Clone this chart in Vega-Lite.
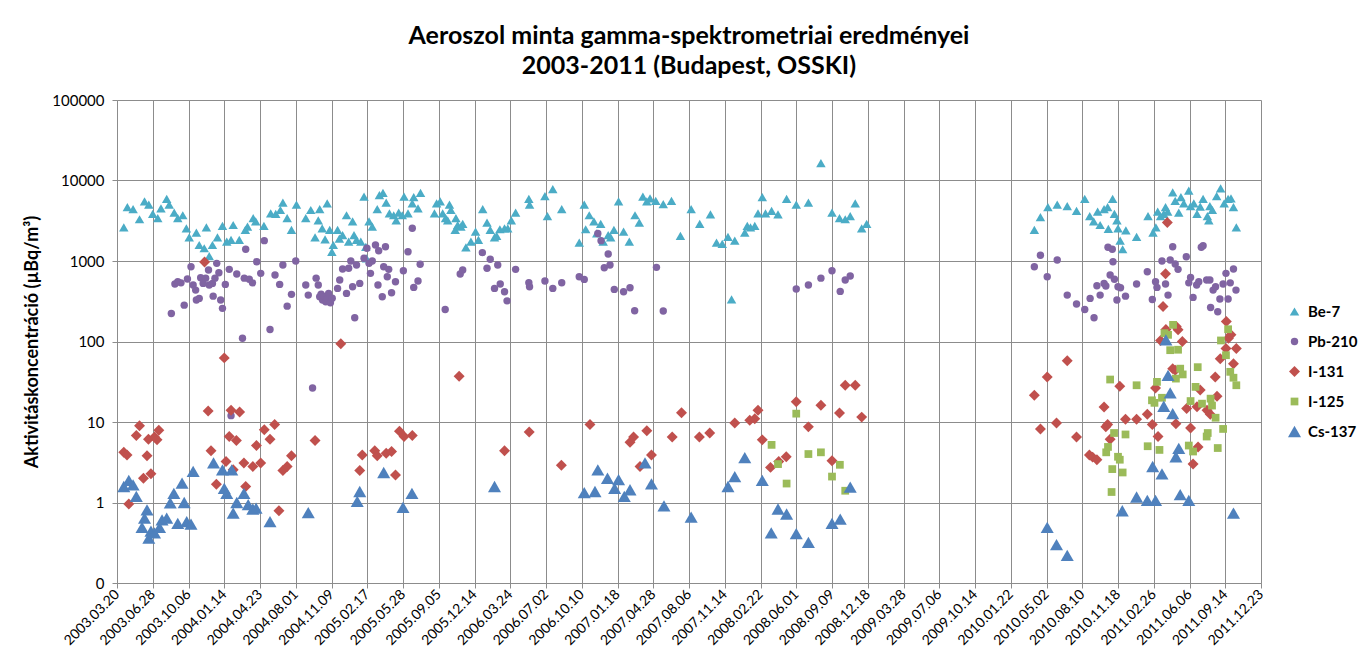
{
"$schema": "https://vega.github.io/schema/vega-lite/v6.json",
"width": 1144, "height": 483,
"autosize": {"type": "none"},
"padding": {"left": 117, "top": 100, "right": 104, "bottom": 80},
"background": "white",
"config": {"view": {"stroke": null}, "font": "Lato"},
"title": {"text": ["Aeroszol minta gamma-spektrometriai eredményei", "2003-2011 (Budapest, OSSKI)"], "fontSize": 25, "font": "Lato", "fontWeight": "bold", "color": "#000", "anchor": "middle", "frame": "group", "offset": 14, "lineHeight": 30},
"datasets": {"all": [
{"date":"2003-04-08","value":2620,"nuclide":"Be-7"},{"date":"2003-04-18","value":4660,"nuclide":"Be-7"},{"date":"2003-05-04","value":4400,"nuclide":"Be-7"},{"date":"2003-05-22","value":3300,"nuclide":"Be-7"},{"date":"2003-06-05","value":5500,"nuclide":"Be-7"},{"date":"2003-06-17","value":5000,"nuclide":"Be-7"},{"date":"2003-06-28","value":3850,"nuclide":"Be-7"},{"date":"2003-07-12","value":3400,"nuclide":"Be-7"},{"date":"2003-07-21","value":4500,"nuclide":"Be-7"},{"date":"2003-08-06","value":5900,"nuclide":"Be-7"},{"date":"2003-08-13","value":5000,"nuclide":"Be-7"},{"date":"2003-08-27","value":4000,"nuclide":"Be-7"},{"date":"2003-09-06","value":3400,"nuclide":"Be-7"},{"date":"2003-09-20","value":3700,"nuclide":"Be-7"},{"date":"2003-09-30","value":2550,"nuclide":"Be-7"},{"date":"2003-10-08","value":1970,"nuclide":"Be-7"},{"date":"2003-10-28","value":2250,"nuclide":"Be-7"},{"date":"2003-11-05","value":1580,"nuclide":"Be-7"},{"date":"2003-11-19","value":1440,"nuclide":"Be-7"},{"date":"2003-11-25","value":2620,"nuclide":"Be-7"},{"date":"2003-12-03","value":1150,"nuclide":"Be-7"},{"date":"2003-12-12","value":1580,"nuclide":"Be-7"},{"date":"2003-12-26","value":1970,"nuclide":"Be-7"},{"date":"2004-01-09","value":2730,"nuclide":"Be-7"},{"date":"2004-01-21","value":1740,"nuclide":"Be-7"},{"date":"2004-02-02","value":1830,"nuclide":"Be-7"},{"date":"2004-02-08","value":2800,"nuclide":"Be-7"},{"date":"2004-02-25","value":1830,"nuclide":"Be-7"},{"date":"2004-03-13","value":2430,"nuclide":"Be-7"},{"date":"2004-03-19","value":2670,"nuclide":"Be-7"},{"date":"2004-04-04","value":3400,"nuclide":"Be-7"},{"date":"2004-04-11","value":3100,"nuclide":"Be-7"},{"date":"2004-05-04","value":2730,"nuclide":"Be-7"},{"date":"2004-05-23","value":3900,"nuclide":"Be-7"},{"date":"2004-06-06","value":3850,"nuclide":"Be-7"},{"date":"2004-06-19","value":4300,"nuclide":"Be-7"},{"date":"2004-06-26","value":5300,"nuclide":"Be-7"},{"date":"2004-07-08","value":3400,"nuclide":"Be-7"},{"date":"2004-07-20","value":2430,"nuclide":"Be-7"},{"date":"2004-08-03","value":5000,"nuclide":"Be-7"},{"date":"2004-08-29","value":3400,"nuclide":"Be-7"},{"date":"2004-09-12","value":4300,"nuclide":"Be-7"},{"date":"2004-09-24","value":1970,"nuclide":"Be-7"},{"date":"2004-10-03","value":3200,"nuclide":"Be-7"},{"date":"2004-10-07","value":4400,"nuclide":"Be-7"},{"date":"2004-10-14","value":2550,"nuclide":"Be-7"},{"date":"2004-10-22","value":1860,"nuclide":"Be-7"},{"date":"2004-10-28","value":5200,"nuclide":"Be-7"},{"date":"2004-11-04","value":2430,"nuclide":"Be-7"},{"date":"2004-11-10","value":1300,"nuclide":"Be-7"},{"date":"2004-11-14","value":1580,"nuclide":"Be-7"},{"date":"2004-11-26","value":2430,"nuclide":"Be-7"},{"date":"2004-12-01","value":1900,"nuclide":"Be-7"},{"date":"2004-12-10","value":2100,"nuclide":"Be-7"},{"date":"2004-12-21","value":3700,"nuclide":"Be-7"},{"date":"2004-12-27","value":1740,"nuclide":"Be-7"},{"date":"2005-01-07","value":3100,"nuclide":"Be-7"},{"date":"2005-01-11","value":2100,"nuclide":"Be-7"},{"date":"2005-01-18","value":1830,"nuclide":"Be-7"},{"date":"2005-01-30","value":1740,"nuclide":"Be-7"},{"date":"2005-02-08","value":6300,"nuclide":"Be-7"},{"date":"2005-02-13","value":1500,"nuclide":"Be-7"},{"date":"2005-02-15","value":1080,"nuclide":"Be-7"},{"date":"2005-02-22","value":3100,"nuclide":"Be-7"},{"date":"2005-03-03","value":2670,"nuclide":"Be-7"},{"date":"2005-03-17","value":4400,"nuclide":"Be-7"},{"date":"2005-03-23","value":6600,"nuclide":"Be-7"},{"date":"2005-04-02","value":7000,"nuclide":"Be-7"},{"date":"2005-04-11","value":5300,"nuclide":"Be-7"},{"date":"2005-04-20","value":3900,"nuclide":"Be-7"},{"date":"2005-05-02","value":3700,"nuclide":"Be-7"},{"date":"2005-05-09","value":3200,"nuclide":"Be-7"},{"date":"2005-05-16","value":4000,"nuclide":"Be-7"},{"date":"2005-05-26","value":3700,"nuclide":"Be-7"},{"date":"2005-05-31","value":6300,"nuclide":"Be-7"},{"date":"2005-06-11","value":3900,"nuclide":"Be-7"},{"date":"2005-06-23","value":5200,"nuclide":"Be-7"},{"date":"2005-06-27","value":6200,"nuclide":"Be-7"},{"date":"2005-07-09","value":4500,"nuclide":"Be-7"},{"date":"2005-07-16","value":7000,"nuclide":"Be-7"},{"date":"2005-08-24","value":3900,"nuclide":"Be-7"},{"date":"2005-08-30","value":5200,"nuclide":"Be-7"},{"date":"2005-09-09","value":5500,"nuclide":"Be-7"},{"date":"2005-09-16","value":3900,"nuclide":"Be-7"},{"date":"2005-09-24","value":3400,"nuclide":"Be-7"},{"date":"2005-09-30","value":3200,"nuclide":"Be-7"},{"date":"2005-10-05","value":5000,"nuclide":"Be-7"},{"date":"2005-10-09","value":4300,"nuclide":"Be-7"},{"date":"2005-10-21","value":2430,"nuclide":"Be-7"},{"date":"2005-10-23","value":3400,"nuclide":"Be-7"},{"date":"2005-10-28","value":2800,"nuclide":"Be-7"},{"date":"2005-11-06","value":2670,"nuclide":"Be-7"},{"date":"2005-11-11","value":2900,"nuclide":"Be-7"},{"date":"2005-11-20","value":1480,"nuclide":"Be-7"},{"date":"2005-12-04","value":1740,"nuclide":"Be-7"},{"date":"2005-12-17","value":2320,"nuclide":"Be-7"},{"date":"2005-12-25","value":1830,"nuclide":"Be-7"},{"date":"2006-01-06","value":4400,"nuclide":"Be-7"},{"date":"2006-01-18","value":3000,"nuclide":"Be-7"},{"date":"2006-01-27","value":2430,"nuclide":"Be-7"},{"date":"2006-02-08","value":1970,"nuclide":"Be-7"},{"date":"2006-02-14","value":2050,"nuclide":"Be-7"},{"date":"2006-02-23","value":2480,"nuclide":"Be-7"},{"date":"2006-03-08","value":2550,"nuclide":"Be-7"},{"date":"2006-03-17","value":2550,"nuclide":"Be-7"},{"date":"2006-03-27","value":3200,"nuclide":"Be-7"},{"date":"2006-04-08","value":4000,"nuclide":"Be-7"},{"date":"2006-05-15","value":5900,"nuclide":"Be-7"},{"date":"2006-05-17","value":5000,"nuclide":"Be-7"},{"date":"2006-06-29","value":6400,"nuclide":"Be-7"},{"date":"2006-07-06","value":3600,"nuclide":"Be-7"},{"date":"2006-07-21","value":7800,"nuclide":"Be-7"},{"date":"2006-08-15","value":4400,"nuclide":"Be-7"},{"date":"2006-10-03","value":1690,"nuclide":"Be-7"},{"date":"2006-10-17","value":5000,"nuclide":"Be-7"},{"date":"2006-10-21","value":2480,"nuclide":"Be-7"},{"date":"2006-10-31","value":3700,"nuclide":"Be-7"},{"date":"2006-11-13","value":3100,"nuclide":"Be-7"},{"date":"2006-11-21","value":2200,"nuclide":"Be-7"},{"date":"2006-12-02","value":2900,"nuclide":"Be-7"},{"date":"2006-12-09","value":1740,"nuclide":"Be-7"},{"date":"2006-12-23","value":2100,"nuclide":"Be-7"},{"date":"2006-12-30","value":1970,"nuclide":"Be-7"},{"date":"2007-01-08","value":2430,"nuclide":"Be-7"},{"date":"2007-01-21","value":5500,"nuclide":"Be-7"},{"date":"2007-02-04","value":2320,"nuclide":"Be-7"},{"date":"2007-02-20","value":1740,"nuclide":"Be-7"},{"date":"2007-03-08","value":3700,"nuclide":"Be-7"},{"date":"2007-03-20","value":3000,"nuclide":"Be-7"},{"date":"2007-03-30","value":6300,"nuclide":"Be-7"},{"date":"2007-04-10","value":5500,"nuclide":"Be-7"},{"date":"2007-04-19","value":6000,"nuclide":"Be-7"},{"date":"2007-05-05","value":5600,"nuclide":"Be-7"},{"date":"2007-05-26","value":5100,"nuclide":"Be-7"},{"date":"2007-06-18","value":5600,"nuclide":"Be-7"},{"date":"2007-07-13","value":2050,"nuclide":"Be-7"},{"date":"2007-08-12","value":4400,"nuclide":"Be-7"},{"date":"2007-09-05","value":2900,"nuclide":"Be-7"},{"date":"2007-10-05","value":3800,"nuclide":"Be-7"},{"date":"2007-10-22","value":1690,"nuclide":"Be-7"},{"date":"2007-11-07","value":1630,"nuclide":"Be-7"},{"date":"2007-11-23","value":2000,"nuclide":"Be-7"},{"date":"2007-12-03","value":333,"nuclide":"Be-7"},{"date":"2007-12-12","value":1790,"nuclide":"Be-7"},{"date":"2008-01-09","value":2250,"nuclide":"Be-7"},{"date":"2008-01-16","value":2730,"nuclide":"Be-7"},{"date":"2008-01-25","value":2620,"nuclide":"Be-7"},{"date":"2008-02-06","value":2730,"nuclide":"Be-7"},{"date":"2008-02-15","value":3900,"nuclide":"Be-7"},{"date":"2008-02-27","value":6200,"nuclide":"Be-7"},{"date":"2008-03-07","value":3900,"nuclide":"Be-7"},{"date":"2008-03-24","value":4200,"nuclide":"Be-7"},{"date":"2008-04-11","value":3800,"nuclide":"Be-7"},{"date":"2008-05-05","value":5900,"nuclide":"Be-7"},{"date":"2008-06-01","value":5000,"nuclide":"Be-7"},{"date":"2008-07-05","value":5300,"nuclide":"Be-7"},{"date":"2008-08-09","value":16400,"nuclide":"Be-7"},{"date":"2008-09-09","value":4000,"nuclide":"Be-7"},{"date":"2008-09-30","value":3400,"nuclide":"Be-7"},{"date":"2008-10-16","value":3300,"nuclide":"Be-7"},{"date":"2008-10-30","value":3600,"nuclide":"Be-7"},{"date":"2008-11-13","value":5200,"nuclide":"Be-7"},{"date":"2008-12-01","value":2550,"nuclide":"Be-7"},{"date":"2008-12-15","value":2900,"nuclide":"Be-7"},{"date":"2010-03-29","value":2430,"nuclide":"Be-7"},{"date":"2010-04-15","value":3500,"nuclide":"Be-7"},{"date":"2010-05-06","value":4660,"nuclide":"Be-7"},{"date":"2010-06-01","value":5000,"nuclide":"Be-7"},{"date":"2010-06-29","value":4800,"nuclide":"Be-7"},{"date":"2010-07-25","value":4200,"nuclide":"Be-7"},{"date":"2010-08-17","value":5900,"nuclide":"Be-7"},{"date":"2010-08-31","value":3600,"nuclide":"Be-7"},{"date":"2010-09-11","value":3100,"nuclide":"Be-7"},{"date":"2010-09-22","value":4100,"nuclide":"Be-7"},{"date":"2010-09-29","value":2800,"nuclide":"Be-7"},{"date":"2010-10-10","value":4400,"nuclide":"Be-7"},{"date":"2010-10-20","value":4660,"nuclide":"Be-7"},{"date":"2010-10-22","value":2500,"nuclide":"Be-7"},{"date":"2010-11-03","value":5900,"nuclide":"Be-7"},{"date":"2010-11-08","value":3850,"nuclide":"Be-7"},{"date":"2010-11-15","value":3200,"nuclide":"Be-7"},{"date":"2010-11-18","value":2550,"nuclide":"Be-7"},{"date":"2010-11-24","value":1790,"nuclide":"Be-7"},{"date":"2010-12-01","value":1400,"nuclide":"Be-7"},{"date":"2010-12-10","value":2400,"nuclide":"Be-7"},{"date":"2011-01-09","value":2000,"nuclide":"Be-7"},{"date":"2011-02-10","value":3600,"nuclide":"Be-7"},{"date":"2011-02-24","value":2250,"nuclide":"Be-7"},{"date":"2011-03-04","value":2620,"nuclide":"Be-7"},{"date":"2011-03-09","value":4100,"nuclide":"Be-7"},{"date":"2011-03-17","value":3600,"nuclide":"Be-7"},{"date":"2011-03-26","value":3850,"nuclide":"Be-7"},{"date":"2011-03-31","value":4660,"nuclide":"Be-7"},{"date":"2011-04-06","value":4100,"nuclide":"Be-7"},{"date":"2011-04-20","value":7100,"nuclide":"Be-7"},{"date":"2011-04-27","value":5600,"nuclide":"Be-7"},{"date":"2011-05-07","value":4000,"nuclide":"Be-7"},{"date":"2011-05-13","value":6200,"nuclide":"Be-7"},{"date":"2011-05-21","value":5200,"nuclide":"Be-7"},{"date":"2011-06-04","value":7500,"nuclide":"Be-7"},{"date":"2011-06-09","value":4800,"nuclide":"Be-7"},{"date":"2011-06-18","value":5200,"nuclide":"Be-7"},{"date":"2011-06-27","value":3850,"nuclide":"Be-7"},{"date":"2011-07-06","value":4750,"nuclide":"Be-7"},{"date":"2011-07-14","value":5900,"nuclide":"Be-7"},{"date":"2011-07-26","value":3600,"nuclide":"Be-7"},{"date":"2011-07-30","value":3200,"nuclide":"Be-7"},{"date":"2011-08-02","value":4800,"nuclide":"Be-7"},{"date":"2011-08-09","value":4300,"nuclide":"Be-7"},{"date":"2011-08-21","value":6400,"nuclide":"Be-7"},{"date":"2011-09-01","value":8000,"nuclide":"Be-7"},{"date":"2011-09-11","value":5200,"nuclide":"Be-7"},{"date":"2011-09-22","value":5900,"nuclide":"Be-7"},{"date":"2011-09-30","value":6000,"nuclide":"Be-7"},{"date":"2011-10-07","value":4660,"nuclide":"Be-7"},{"date":"2011-10-15","value":2620,"nuclide":"Be-7"},
{"date":"2003-08-19","value":223,"nuclide":"Pb-210"},{"date":"2003-08-29","value":517,"nuclide":"Pb-210"},{"date":"2003-09-06","value":553,"nuclide":"Pb-210"},{"date":"2003-09-15","value":535,"nuclide":"Pb-210"},{"date":"2003-09-24","value":283,"nuclide":"Pb-210"},{"date":"2003-10-03","value":597,"nuclide":"Pb-210"},{"date":"2003-10-13","value":850,"nuclide":"Pb-210"},{"date":"2003-10-19","value":503,"nuclide":"Pb-210"},{"date":"2003-10-26","value":435,"nuclide":"Pb-210"},{"date":"2003-10-28","value":327,"nuclide":"Pb-210"},{"date":"2003-11-05","value":343,"nuclide":"Pb-210"},{"date":"2003-11-09","value":620,"nuclide":"Pb-210"},{"date":"2003-11-16","value":527,"nuclide":"Pb-210"},{"date":"2003-11-23","value":612,"nuclide":"Pb-210"},{"date":"2003-12-01","value":773,"nuclide":"Pb-210"},{"date":"2003-12-03","value":503,"nuclide":"Pb-210"},{"date":"2003-12-12","value":527,"nuclide":"Pb-210"},{"date":"2003-12-14","value":366,"nuclide":"Pb-210"},{"date":"2003-12-19","value":612,"nuclide":"Pb-210"},{"date":"2003-12-24","value":935,"nuclide":"Pb-210"},{"date":"2003-12-30","value":716,"nuclide":"Pb-210"},{"date":"2004-01-04","value":327,"nuclide":"Pb-210"},{"date":"2004-01-09","value":258,"nuclide":"Pb-210"},{"date":"2004-01-17","value":512,"nuclide":"Pb-210"},{"date":"2004-01-28","value":787,"nuclide":"Pb-210"},{"date":"2004-02-02","value":12,"nuclide":"Pb-210"},{"date":"2004-02-18","value":688,"nuclide":"Pb-210"},{"date":"2004-03-05","value":110,"nuclide":"Pb-210"},{"date":"2004-03-10","value":612,"nuclide":"Pb-210"},{"date":"2004-03-14","value":1400,"nuclide":"Pb-210"},{"date":"2004-03-24","value":593,"nuclide":"Pb-210"},{"date":"2004-04-02","value":535,"nuclide":"Pb-210"},{"date":"2004-04-14","value":980,"nuclide":"Pb-210"},{"date":"2004-04-25","value":702,"nuclide":"Pb-210"},{"date":"2004-05-05","value":1790,"nuclide":"Pb-210"},{"date":"2004-05-21","value":141,"nuclide":"Pb-210"},{"date":"2004-06-04","value":670,"nuclide":"Pb-210"},{"date":"2004-06-17","value":512,"nuclide":"Pb-210"},{"date":"2004-06-26","value":891,"nuclide":"Pb-210"},{"date":"2004-07-08","value":275,"nuclide":"Pb-210"},{"date":"2004-07-20","value":385,"nuclide":"Pb-210"},{"date":"2004-08-01","value":1000,"nuclide":"Pb-210"},{"date":"2004-08-29","value":503,"nuclide":"Pb-210"},{"date":"2004-09-05","value":377,"nuclide":"Pb-210"},{"date":"2004-09-17","value":26.5,"nuclide":"Pb-210"},{"date":"2004-09-27","value":612,"nuclide":"Pb-210"},{"date":"2004-10-03","value":503,"nuclide":"Pb-210"},{"date":"2004-10-07","value":360,"nuclide":"Pb-210"},{"date":"2004-10-11","value":388,"nuclide":"Pb-210"},{"date":"2004-10-15","value":327,"nuclide":"Pb-210"},{"date":"2004-10-20","value":360,"nuclide":"Pb-210"},{"date":"2004-10-24","value":312,"nuclide":"Pb-210"},{"date":"2004-10-28","value":340,"nuclide":"Pb-210"},{"date":"2004-11-01","value":396,"nuclide":"Pb-210"},{"date":"2004-11-06","value":303,"nuclide":"Pb-210"},{"date":"2004-11-11","value":345,"nuclide":"Pb-210"},{"date":"2004-11-26","value":457,"nuclide":"Pb-210"},{"date":"2004-12-02","value":580,"nuclide":"Pb-210"},{"date":"2004-12-10","value":795,"nuclide":"Pb-210"},{"date":"2004-12-21","value":396,"nuclide":"Pb-210"},{"date":"2004-12-27","value":811,"nuclide":"Pb-210"},{"date":"2005-01-02","value":1000,"nuclide":"Pb-210"},{"date":"2005-01-07","value":479,"nuclide":"Pb-210"},{"date":"2005-01-13","value":197,"nuclide":"Pb-210"},{"date":"2005-01-18","value":891,"nuclide":"Pb-210"},{"date":"2005-01-27","value":527,"nuclide":"Pb-210"},{"date":"2005-02-08","value":1080,"nuclide":"Pb-210"},{"date":"2005-02-16","value":1440,"nuclide":"Pb-210"},{"date":"2005-02-22","value":935,"nuclide":"Pb-210"},{"date":"2005-02-26","value":702,"nuclide":"Pb-210"},{"date":"2005-03-03","value":1000,"nuclide":"Pb-210"},{"date":"2005-03-12","value":1580,"nuclide":"Pb-210"},{"date":"2005-03-19","value":503,"nuclide":"Pb-210"},{"date":"2005-03-21","value":1340,"nuclide":"Pb-210"},{"date":"2005-03-31","value":360,"nuclide":"Pb-210"},{"date":"2005-04-04","value":850,"nuclide":"Pb-210"},{"date":"2005-04-09","value":1500,"nuclide":"Pb-210"},{"date":"2005-04-14","value":638,"nuclide":"Pb-210"},{"date":"2005-04-18","value":787,"nuclide":"Pb-210"},{"date":"2005-04-26","value":404,"nuclide":"Pb-210"},{"date":"2005-05-07","value":553,"nuclide":"Pb-210"},{"date":"2005-05-29","value":758,"nuclide":"Pb-210"},{"date":"2005-06-11","value":1300,"nuclide":"Pb-210"},{"date":"2005-06-23","value":2550,"nuclide":"Pb-210"},{"date":"2005-06-27","value":470,"nuclide":"Pb-210"},{"date":"2005-07-09","value":564,"nuclide":"Pb-210"},{"date":"2005-07-15","value":910,"nuclide":"Pb-210"},{"date":"2005-09-23","value":250,"nuclide":"Pb-210"},{"date":"2005-11-04","value":688,"nuclide":"Pb-210"},{"date":"2005-11-11","value":773,"nuclide":"Pb-210"},{"date":"2006-01-05","value":1270,"nuclide":"Pb-210"},{"date":"2006-01-18","value":811,"nuclide":"Pb-210"},{"date":"2006-01-27","value":1050,"nuclide":"Pb-210"},{"date":"2006-02-08","value":457,"nuclide":"Pb-210"},{"date":"2006-02-17","value":891,"nuclide":"Pb-210"},{"date":"2006-02-24","value":517,"nuclide":"Pb-210"},{"date":"2006-03-08","value":415,"nuclide":"Pb-210"},{"date":"2006-03-15","value":320,"nuclide":"Pb-210"},{"date":"2006-04-08","value":787,"nuclide":"Pb-210"},{"date":"2006-05-15","value":537,"nuclide":"Pb-210"},{"date":"2006-05-17","value":479,"nuclide":"Pb-210"},{"date":"2006-06-29","value":564,"nuclide":"Pb-210"},{"date":"2006-07-21","value":457,"nuclide":"Pb-210"},{"date":"2006-08-15","value":537,"nuclide":"Pb-210"},{"date":"2006-10-03","value":638,"nuclide":"Pb-210"},{"date":"2006-10-17","value":591,"nuclide":"Pb-210"},{"date":"2006-11-24","value":2200,"nuclide":"Pb-210"},{"date":"2006-12-03","value":1790,"nuclide":"Pb-210"},{"date":"2006-12-12","value":826,"nuclide":"Pb-210"},{"date":"2006-12-23","value":1220,"nuclide":"Pb-210"},{"date":"2006-12-28","value":891,"nuclide":"Pb-210"},{"date":"2007-01-09","value":444,"nuclide":"Pb-210"},{"date":"2007-02-04","value":415,"nuclide":"Pb-210"},{"date":"2007-02-22","value":466,"nuclide":"Pb-210"},{"date":"2007-03-07","value":241,"nuclide":"Pb-210"},{"date":"2007-05-07","value":834,"nuclide":"Pb-210"},{"date":"2007-05-26","value":239,"nuclide":"Pb-210"},{"date":"2008-06-01","value":448,"nuclide":"Pb-210"},{"date":"2008-07-05","value":503,"nuclide":"Pb-210"},{"date":"2008-08-09","value":612,"nuclide":"Pb-210"},{"date":"2008-09-09","value":758,"nuclide":"Pb-210"},{"date":"2008-10-02","value":419,"nuclide":"Pb-210"},{"date":"2008-10-16","value":580,"nuclide":"Pb-210"},{"date":"2008-10-30","value":650,"nuclide":"Pb-210"},{"date":"2010-03-29","value":850,"nuclide":"Pb-210"},{"date":"2010-04-15","value":1180,"nuclide":"Pb-210"},{"date":"2010-05-04","value":638,"nuclide":"Pb-210"},{"date":"2010-06-01","value":1030,"nuclide":"Pb-210"},{"date":"2010-06-29","value":377,"nuclide":"Pb-210"},{"date":"2010-07-25","value":292,"nuclide":"Pb-210"},{"date":"2010-08-17","value":250,"nuclide":"Pb-210"},{"date":"2010-09-01","value":343,"nuclide":"Pb-210"},{"date":"2010-09-12","value":197,"nuclide":"Pb-210"},{"date":"2010-09-20","value":493,"nuclide":"Pb-210"},{"date":"2010-09-29","value":377,"nuclide":"Pb-210"},{"date":"2010-10-10","value":527,"nuclide":"Pb-210"},{"date":"2010-10-15","value":490,"nuclide":"Pb-210"},{"date":"2010-10-21","value":1480,"nuclide":"Pb-210"},{"date":"2010-10-27","value":670,"nuclide":"Pb-210"},{"date":"2010-11-02","value":1400,"nuclide":"Pb-210"},{"date":"2010-11-04","value":980,"nuclide":"Pb-210"},{"date":"2010-11-08","value":593,"nuclide":"Pb-210"},{"date":"2010-11-15","value":327,"nuclide":"Pb-210"},{"date":"2010-11-18","value":479,"nuclide":"Pb-210"},{"date":"2010-11-25","value":466,"nuclide":"Pb-210"},{"date":"2010-12-09","value":366,"nuclide":"Pb-210"},{"date":"2011-01-09","value":517,"nuclide":"Pb-210"},{"date":"2011-02-08","value":736,"nuclide":"Pb-210"},{"date":"2011-02-22","value":333,"nuclide":"Pb-210"},{"date":"2011-03-03","value":553,"nuclide":"Pb-210"},{"date":"2011-03-07","value":470,"nuclide":"Pb-210"},{"date":"2011-03-21","value":1000,"nuclide":"Pb-210"},{"date":"2011-03-31","value":517,"nuclide":"Pb-210"},{"date":"2011-04-07","value":377,"nuclide":"Pb-210"},{"date":"2011-04-13","value":1030,"nuclide":"Pb-210"},{"date":"2011-04-20","value":1500,"nuclide":"Pb-210"},{"date":"2011-04-27","value":918,"nuclide":"Pb-210"},{"date":"2011-05-05","value":787,"nuclide":"Pb-210"},{"date":"2011-05-28","value":1130,"nuclide":"Pb-210"},{"date":"2011-06-04","value":535,"nuclide":"Pb-210"},{"date":"2011-06-09","value":626,"nuclide":"Pb-210"},{"date":"2011-06-16","value":353,"nuclide":"Pb-210"},{"date":"2011-06-26","value":503,"nuclide":"Pb-210"},{"date":"2011-07-02","value":553,"nuclide":"Pb-210"},{"date":"2011-07-09","value":1480,"nuclide":"Pb-210"},{"date":"2011-07-14","value":1550,"nuclide":"Pb-210"},{"date":"2011-07-24","value":580,"nuclide":"Pb-210"},{"date":"2011-08-02","value":580,"nuclide":"Pb-210"},{"date":"2011-08-04","value":265,"nuclide":"Pb-210"},{"date":"2011-08-11","value":435,"nuclide":"Pb-210"},{"date":"2011-08-18","value":479,"nuclide":"Pb-210"},{"date":"2011-08-24","value":234,"nuclide":"Pb-210"},{"date":"2011-08-30","value":337,"nuclide":"Pb-210"},{"date":"2011-09-08","value":517,"nuclide":"Pb-210"},{"date":"2011-09-16","value":702,"nuclide":"Pb-210"},{"date":"2011-09-22","value":337,"nuclide":"Pb-210"},{"date":"2011-09-28","value":535,"nuclide":"Pb-210"},{"date":"2011-10-07","value":795,"nuclide":"Pb-210"},{"date":"2011-10-14","value":435,"nuclide":"Pb-210"},
{"date":"2003-04-08","value":4.2,"nuclide":"I-131"},{"date":"2003-04-17","value":3.9,"nuclide":"I-131"},{"date":"2003-04-22","value":0.96,"nuclide":"I-131"},{"date":"2003-05-13","value":6.8,"nuclide":"I-131"},{"date":"2003-05-22","value":9.0,"nuclide":"I-131"},{"date":"2003-06-02","value":2.0,"nuclide":"I-131"},{"date":"2003-06-12","value":3.8,"nuclide":"I-131"},{"date":"2003-06-16","value":6.1,"nuclide":"I-131"},{"date":"2003-06-23","value":2.27,"nuclide":"I-131"},{"date":"2003-07-03","value":6.5,"nuclide":"I-131"},{"date":"2003-07-10","value":6.0,"nuclide":"I-131"},{"date":"2003-07-15","value":7.9,"nuclide":"I-131"},{"date":"2003-11-20","value":970,"nuclide":"I-131"},{"date":"2003-11-30","value":13.7,"nuclide":"I-131"},{"date":"2003-12-08","value":4.4,"nuclide":"I-131"},{"date":"2003-12-23","value":1.69,"nuclide":"I-131"},{"date":"2004-01-14","value":62.6,"nuclide":"I-131"},{"date":"2004-01-19","value":3.24,"nuclide":"I-131"},{"date":"2004-01-28","value":6.6,"nuclide":"I-131"},{"date":"2004-02-02","value":14,"nuclide":"I-131"},{"date":"2004-02-08","value":2.55,"nuclide":"I-131"},{"date":"2004-02-17","value":5.9,"nuclide":"I-131"},{"date":"2004-02-26","value":13.3,"nuclide":"I-131"},{"date":"2004-03-09","value":3.1,"nuclide":"I-131"},{"date":"2004-03-14","value":1.58,"nuclide":"I-131"},{"date":"2004-04-03","value":2.8,"nuclide":"I-131"},{"date":"2004-04-13","value":5.1,"nuclide":"I-131"},{"date":"2004-04-25","value":3.1,"nuclide":"I-131"},{"date":"2004-05-05","value":8.0,"nuclide":"I-131"},{"date":"2004-05-21","value":6.1,"nuclide":"I-131"},{"date":"2004-06-03","value":9.3,"nuclide":"I-131"},{"date":"2004-06-15","value":0.79,"nuclide":"I-131"},{"date":"2004-06-26","value":2.5,"nuclide":"I-131"},{"date":"2004-07-08","value":2.8,"nuclide":"I-131"},{"date":"2004-07-20","value":3.8,"nuclide":"I-131"},{"date":"2004-09-24","value":5.9,"nuclide":"I-131"},{"date":"2004-12-05","value":94,"nuclide":"I-131"},{"date":"2005-01-27","value":2.5,"nuclide":"I-131"},{"date":"2005-02-03","value":3.9,"nuclide":"I-131"},{"date":"2005-03-10","value":4.4,"nuclide":"I-131"},{"date":"2005-03-17","value":3.8,"nuclide":"I-131"},{"date":"2005-04-11","value":4.1,"nuclide":"I-131"},{"date":"2005-04-26","value":4.3,"nuclide":"I-131"},{"date":"2005-05-07","value":2.2,"nuclide":"I-131"},{"date":"2005-05-18","value":7.7,"nuclide":"I-131"},{"date":"2005-05-31","value":6.6,"nuclide":"I-131"},{"date":"2005-06-23","value":6.8,"nuclide":"I-131"},{"date":"2005-11-01","value":37,"nuclide":"I-131"},{"date":"2006-03-08","value":4.4,"nuclide":"I-131"},{"date":"2006-05-16","value":7.5,"nuclide":"I-131"},{"date":"2006-08-14","value":2.9,"nuclide":"I-131"},{"date":"2006-11-02","value":9.3,"nuclide":"I-131"},{"date":"2007-02-22","value":5.6,"nuclide":"I-131"},{"date":"2007-03-04","value":6.5,"nuclide":"I-131"},{"date":"2007-03-22","value":2.8,"nuclide":"I-131"},{"date":"2007-04-10","value":7.8,"nuclide":"I-131"},{"date":"2007-04-23","value":3.9,"nuclide":"I-131"},{"date":"2007-06-20","value":6.5,"nuclide":"I-131"},{"date":"2007-07-16","value":13,"nuclide":"I-131"},{"date":"2007-09-04","value":6.5,"nuclide":"I-131"},{"date":"2007-10-03","value":7.3,"nuclide":"I-131"},{"date":"2007-12-12","value":9.7,"nuclide":"I-131"},{"date":"2008-01-23","value":10.5,"nuclide":"I-131"},{"date":"2008-02-06","value":11,"nuclide":"I-131"},{"date":"2008-02-15","value":14,"nuclide":"I-131"},{"date":"2008-02-27","value":6.0,"nuclide":"I-131"},{"date":"2008-03-21","value":2.73,"nuclide":"I-131"},{"date":"2008-04-13","value":3.24,"nuclide":"I-131"},{"date":"2008-05-04","value":3.7,"nuclide":"I-131"},{"date":"2008-06-01","value":17.8,"nuclide":"I-131"},{"date":"2008-07-05","value":8.7,"nuclide":"I-131"},{"date":"2008-08-09","value":16.1,"nuclide":"I-131"},{"date":"2008-09-09","value":3.3,"nuclide":"I-131"},{"date":"2008-09-30","value":12.9,"nuclide":"I-131"},{"date":"2008-10-16","value":28.6,"nuclide":"I-131"},{"date":"2008-11-13","value":28.6,"nuclide":"I-131"},{"date":"2008-12-01","value":11.5,"nuclide":"I-131"},{"date":"2010-03-29","value":21.5,"nuclide":"I-131"},{"date":"2010-04-15","value":8.2,"nuclide":"I-131"},{"date":"2010-05-04","value":36.3,"nuclide":"I-131"},{"date":"2010-05-30","value":9.7,"nuclide":"I-131"},{"date":"2010-06-29","value":57.5,"nuclide":"I-131"},{"date":"2010-07-25","value":6.5,"nuclide":"I-131"},{"date":"2010-08-30","value":3.9,"nuclide":"I-131"},{"date":"2010-09-08","value":3.66,"nuclide":"I-131"},{"date":"2010-09-20","value":3.4,"nuclide":"I-131"},{"date":"2010-10-10","value":15.4,"nuclide":"I-131"},{"date":"2010-10-15","value":8.7,"nuclide":"I-131"},{"date":"2010-10-20","value":9.3,"nuclide":"I-131"},{"date":"2010-10-27","value":6.1,"nuclide":"I-131"},{"date":"2010-11-23","value":27.8,"nuclide":"I-131"},{"date":"2010-12-09","value":10.8,"nuclide":"I-131"},{"date":"2011-01-09","value":10.8,"nuclide":"I-131"},{"date":"2011-02-08","value":12.5,"nuclide":"I-131"},{"date":"2011-02-22","value":9.3,"nuclide":"I-131"},{"date":"2011-03-03","value":26.5,"nuclide":"I-131"},{"date":"2011-03-10","value":6.6,"nuclide":"I-131"},{"date":"2011-03-17","value":103,"nuclide":"I-131"},{"date":"2011-03-24","value":272,"nuclide":"I-131"},{"date":"2011-03-31","value":695,"nuclide":"I-131"},{"date":"2011-04-01","value":141,"nuclide":"I-131"},{"date":"2011-04-05","value":3000,"nuclide":"I-131"},{"date":"2011-04-20","value":46,"nuclide":"I-131"},{"date":"2011-04-27","value":44,"nuclide":"I-131"},{"date":"2011-04-29","value":9.5,"nuclide":"I-131"},{"date":"2011-04-30","value":154,"nuclide":"I-131"},{"date":"2011-05-05","value":140,"nuclide":"I-131"},{"date":"2011-05-17","value":100,"nuclide":"I-131"},{"date":"2011-05-29","value":14.7,"nuclide":"I-131"},{"date":"2011-06-09","value":8.4,"nuclide":"I-131"},{"date":"2011-06-16","value":3.0,"nuclide":"I-131"},{"date":"2011-06-27","value":15.5,"nuclide":"I-131"},{"date":"2011-06-30","value":4.9,"nuclide":"I-131"},{"date":"2011-07-06","value":25,"nuclide":"I-131"},{"date":"2011-07-25","value":14,"nuclide":"I-131"},{"date":"2011-08-03","value":12.5,"nuclide":"I-131"},{"date":"2011-08-17","value":36.3,"nuclide":"I-131"},{"date":"2011-08-22","value":20.9,"nuclide":"I-131"},{"date":"2011-08-31","value":61,"nuclide":"I-131"},{"date":"2011-09-16","value":82,"nuclide":"I-131"},{"date":"2011-09-17","value":177,"nuclide":"I-131"},{"date":"2011-09-23","value":110,"nuclide":"I-131"},{"date":"2011-09-30","value":121,"nuclide":"I-131"},{"date":"2011-10-07","value":53,"nuclide":"I-131"},{"date":"2011-10-15","value":82,"nuclide":"I-131"},
{"date":"2008-03-24","value":5.2,"nuclide":"I-125"},{"date":"2008-04-11","value":3.0,"nuclide":"I-125"},{"date":"2008-05-05","value":1.72,"nuclide":"I-125"},{"date":"2008-06-01","value":12.7,"nuclide":"I-125"},{"date":"2008-07-05","value":4.0,"nuclide":"I-125"},{"date":"2008-08-09","value":4.2,"nuclide":"I-125"},{"date":"2008-09-09","value":2.1,"nuclide":"I-125"},{"date":"2008-10-01","value":2.94,"nuclide":"I-125"},{"date":"2008-10-16","value":1.4,"nuclide":"I-125"},{"date":"2010-10-16","value":4.2,"nuclide":"I-125"},{"date":"2010-10-21","value":4.9,"nuclide":"I-125"},{"date":"2010-10-27","value":33.7,"nuclide":"I-125"},{"date":"2010-10-31","value":1.35,"nuclide":"I-125"},{"date":"2010-11-02","value":2.6,"nuclide":"I-125"},{"date":"2010-11-07","value":7.3,"nuclide":"I-125"},{"date":"2010-11-18","value":3.7,"nuclide":"I-125"},{"date":"2010-11-23","value":3.4,"nuclide":"I-125"},{"date":"2010-12-01","value":2.36,"nuclide":"I-125"},{"date":"2010-12-09","value":7.0,"nuclide":"I-125"},{"date":"2011-01-09","value":28.6,"nuclide":"I-125"},{"date":"2011-02-09","value":5.0,"nuclide":"I-125"},{"date":"2011-02-21","value":18.6,"nuclide":"I-125"},{"date":"2011-02-28","value":17.3,"nuclide":"I-125"},{"date":"2011-03-07","value":31.5,"nuclide":"I-125"},{"date":"2011-03-14","value":4.5,"nuclide":"I-125"},{"date":"2011-03-21","value":20,"nuclide":"I-125"},{"date":"2011-03-28","value":127,"nuclide":"I-125"},{"date":"2011-04-07","value":121,"nuclide":"I-125"},{"date":"2011-04-13","value":78,"nuclide":"I-125"},{"date":"2011-04-21","value":161,"nuclide":"I-125"},{"date":"2011-04-29","value":34.6,"nuclide":"I-125"},{"date":"2011-05-05","value":79,"nuclide":"I-125"},{"date":"2011-05-11","value":46,"nuclide":"I-125"},{"date":"2011-05-18","value":39,"nuclide":"I-125"},{"date":"2011-06-04","value":5.1,"nuclide":"I-125"},{"date":"2011-06-09","value":18.2,"nuclide":"I-125"},{"date":"2011-06-16","value":4.3,"nuclide":"I-125"},{"date":"2011-06-23","value":27.3,"nuclide":"I-125"},{"date":"2011-06-29","value":48,"nuclide":"I-125"},{"date":"2011-07-11","value":16.9,"nuclide":"I-125"},{"date":"2011-07-24","value":6.6,"nuclide":"I-125"},{"date":"2011-07-27","value":7.3,"nuclide":"I-125"},{"date":"2011-08-04","value":19.5,"nuclide":"I-125"},{"date":"2011-08-08","value":16,"nuclide":"I-125"},{"date":"2011-08-18","value":11.3,"nuclide":"I-125"},{"date":"2011-08-24","value":4.75,"nuclide":"I-125"},{"date":"2011-09-02","value":103,"nuclide":"I-125"},{"date":"2011-09-08","value":8.2,"nuclide":"I-125"},{"date":"2011-09-16","value":67.6,"nuclide":"I-125"},{"date":"2011-09-22","value":142,"nuclide":"I-125"},{"date":"2011-09-28","value":42,"nuclide":"I-125"},{"date":"2011-10-07","value":35.5,"nuclide":"I-125"},{"date":"2011-10-15","value":28.6,"nuclide":"I-125"},
{"date":"2003-04-08","value":1.58,"nuclide":"Cs-137"},{"date":"2003-04-22","value":1.88,"nuclide":"Cs-137"},{"date":"2003-05-04","value":1.66,"nuclide":"Cs-137"},{"date":"2003-05-13","value":1.19,"nuclide":"Cs-137"},{"date":"2003-05-29","value":0.49,"nuclide":"Cs-137"},{"date":"2003-06-05","value":0.64,"nuclide":"Cs-137"},{"date":"2003-06-12","value":0.81,"nuclide":"Cs-137"},{"date":"2003-06-17","value":0.36,"nuclide":"Cs-137"},{"date":"2003-06-23","value":0.44,"nuclide":"Cs-137"},{"date":"2003-07-03","value":0.42,"nuclide":"Cs-137"},{"date":"2003-07-17","value":0.49,"nuclide":"Cs-137"},{"date":"2003-07-24","value":0.61,"nuclide":"Cs-137"},{"date":"2003-08-06","value":0.64,"nuclide":"Cs-137"},{"date":"2003-08-16","value":0.99,"nuclide":"Cs-137"},{"date":"2003-08-26","value":1.3,"nuclide":"Cs-137"},{"date":"2003-09-06","value":0.55,"nuclide":"Cs-137"},{"date":"2003-09-18","value":1.74,"nuclide":"Cs-137"},{"date":"2003-09-24","value":1.0,"nuclide":"Cs-137"},{"date":"2003-10-01","value":0.58,"nuclide":"Cs-137"},{"date":"2003-10-13","value":0.54,"nuclide":"Cs-137"},{"date":"2003-10-19","value":2.43,"nuclide":"Cs-137"},{"date":"2003-12-15","value":3.1,"nuclide":"Cs-137"},{"date":"2004-01-09","value":2.55,"nuclide":"Cs-137"},{"date":"2004-01-14","value":1.5,"nuclide":"Cs-137"},{"date":"2004-01-21","value":1.3,"nuclide":"Cs-137"},{"date":"2004-02-04","value":2.55,"nuclide":"Cs-137"},{"date":"2004-02-08","value":0.74,"nuclide":"Cs-137"},{"date":"2004-02-18","value":1.0,"nuclide":"Cs-137"},{"date":"2004-03-09","value":1.3,"nuclide":"Cs-137"},{"date":"2004-03-21","value":0.94,"nuclide":"Cs-137"},{"date":"2004-04-03","value":0.83,"nuclide":"Cs-137"},{"date":"2004-04-12","value":0.85,"nuclide":"Cs-137"},{"date":"2004-05-21","value":0.58,"nuclide":"Cs-137"},{"date":"2004-09-05","value":0.75,"nuclide":"Cs-137"},{"date":"2005-01-20","value":1.03,"nuclide":"Cs-137"},{"date":"2005-01-27","value":1.37,"nuclide":"Cs-137"},{"date":"2005-04-04","value":2.36,"nuclide":"Cs-137"},{"date":"2005-05-28","value":0.87,"nuclide":"Cs-137"},{"date":"2005-06-22","value":1.3,"nuclide":"Cs-137"},{"date":"2006-02-08","value":1.58,"nuclide":"Cs-137"},{"date":"2006-10-17","value":1.33,"nuclide":"Cs-137"},{"date":"2006-11-16","value":1.37,"nuclide":"Cs-137"},{"date":"2006-11-24","value":2.55,"nuclide":"Cs-137"},{"date":"2006-12-21","value":2.0,"nuclide":"Cs-137"},{"date":"2007-01-10","value":1.5,"nuclide":"Cs-137"},{"date":"2007-01-21","value":1.92,"nuclide":"Cs-137"},{"date":"2007-02-06","value":1.19,"nuclide":"Cs-137"},{"date":"2007-02-22","value":1.44,"nuclide":"Cs-137"},{"date":"2007-04-05","value":3.1,"nuclide":"Cs-137"},{"date":"2007-04-23","value":1.7,"nuclide":"Cs-137"},{"date":"2007-05-28","value":0.91,"nuclide":"Cs-137"},{"date":"2007-08-12","value":0.66,"nuclide":"Cs-137"},{"date":"2007-11-23","value":1.58,"nuclide":"Cs-137"},{"date":"2007-12-12","value":2.1,"nuclide":"Cs-137"},{"date":"2008-01-09","value":3.6,"nuclide":"Cs-137"},{"date":"2008-02-27","value":1.88,"nuclide":"Cs-137"},{"date":"2008-03-23","value":0.42,"nuclide":"Cs-137"},{"date":"2008-04-11","value":0.83,"nuclide":"Cs-137"},{"date":"2008-05-05","value":0.72,"nuclide":"Cs-137"},{"date":"2008-06-01","value":0.41,"nuclide":"Cs-137"},{"date":"2008-07-05","value":0.32,"nuclide":"Cs-137"},{"date":"2008-09-09","value":0.55,"nuclide":"Cs-137"},{"date":"2008-10-02","value":0.62,"nuclide":"Cs-137"},{"date":"2008-10-30","value":1.55,"nuclide":"Cs-137"},{"date":"2010-05-04","value":0.49,"nuclide":"Cs-137"},{"date":"2010-05-30","value":0.30,"nuclide":"Cs-137"},{"date":"2010-06-29","value":0.22,"nuclide":"Cs-137"},{"date":"2010-11-30","value":0.79,"nuclide":"Cs-137"},{"date":"2011-01-09","value":1.17,"nuclide":"Cs-137"},{"date":"2011-02-08","value":1.06,"nuclide":"Cs-137"},{"date":"2011-02-23","value":2.8,"nuclide":"Cs-137"},{"date":"2011-03-03","value":1.06,"nuclide":"Cs-137"},{"date":"2011-03-21","value":2.27,"nuclide":"Cs-137"},{"date":"2011-03-26","value":15.7,"nuclide":"Cs-137"},{"date":"2011-04-01","value":105,"nuclide":"Cs-137"},{"date":"2011-04-07","value":38,"nuclide":"Cs-137"},{"date":"2011-04-13","value":23,"nuclide":"Cs-137"},{"date":"2011-04-20","value":12.7,"nuclide":"Cs-137"},{"date":"2011-04-29","value":3.7,"nuclide":"Cs-137"},{"date":"2011-05-07","value":4.7,"nuclide":"Cs-137"},{"date":"2011-05-11","value":1.25,"nuclide":"Cs-137"},{"date":"2011-06-04","value":1.06,"nuclide":"Cs-137"},{"date":"2011-10-07","value":0.74,"nuclide":"Cs-137"}
]},
"data": {"name": "all"},
"mark": {"type": "point", "filled": true, "opacity": 1},
"encoding": {
  "x": {"field": "date", "type": "temporal",
    "scale": {"type": "utc", "domain": [{"year":2003,"month":3,"date":20,"utc":true},{"year":2011,"month":12,"date":23,"utc":true}]},
    "axis": {"title": null,
      "values": [{"year":2003,"month":3,"date":20,"utc":true},{"year":2003,"month":6,"date":28,"utc":true},{"year":2003,"month":10,"date":6,"utc":true},{"year":2004,"month":1,"date":14,"utc":true},{"year":2004,"month":4,"date":23,"utc":true},{"year":2004,"month":8,"date":1,"utc":true},{"year":2004,"month":11,"date":9,"utc":true},{"year":2005,"month":2,"date":17,"utc":true},{"year":2005,"month":5,"date":28,"utc":true},{"year":2005,"month":9,"date":5,"utc":true},{"year":2005,"month":12,"date":14,"utc":true},{"year":2006,"month":3,"date":24,"utc":true},{"year":2006,"month":7,"date":2,"utc":true},{"year":2006,"month":10,"date":10,"utc":true},{"year":2007,"month":1,"date":18,"utc":true},{"year":2007,"month":4,"date":28,"utc":true},{"year":2007,"month":8,"date":6,"utc":true},{"year":2007,"month":11,"date":14,"utc":true},{"year":2008,"month":2,"date":22,"utc":true},{"year":2008,"month":6,"date":1,"utc":true},{"year":2008,"month":9,"date":9,"utc":true},{"year":2008,"month":12,"date":18,"utc":true},{"year":2009,"month":3,"date":28,"utc":true},{"year":2009,"month":7,"date":6,"utc":true},{"year":2009,"month":10,"date":14,"utc":true},{"year":2010,"month":1,"date":22,"utc":true},{"year":2010,"month":5,"date":2,"utc":true},{"year":2010,"month":8,"date":10,"utc":true},{"year":2010,"month":11,"date":18,"utc":true},{"year":2011,"month":2,"date":26,"utc":true},{"year":2011,"month":6,"date":6,"utc":true},{"year":2011,"month":9,"date":14,"utc":true},{"year":2011,"month":12,"date":23,"utc":true}],
      "labelExpr": "utcFormat(datum.value, '%Y.%m.%d')",
      "labelAngle": -45, "labelAlign": "right", "labelBaseline": "middle", "labelPadding": 4,
      "labelFont": "Lato", "labelFontSize": 14, "labelColor": "#000",
      "labelOverlap": false, "labelFlush": false, "labelBound": false,
      "grid": true, "gridColor": "#8c8c8c", "gridWidth": 1,
      "domainColor": "#8c8c8c", "tickColor": "#8c8c8c", "tickSize": 5}},
  "y": {"field": "value", "type": "quantitative",
    "scale": {"type": "log", "domain": [0.1, 100000], "nice": false},
    "axis": {"title": "Aktivitáskoncentráció (µBq/m³)",
      "values": [0.1, 1, 10, 100, 1000, 10000, 100000],
      "labelExpr": "datum.value < 1 ? '0' : format(datum.value, 'd')",
      "labelFont": "Lato", "labelFontSize": 15, "labelColor": "#000", "labelPadding": 8,
      "titleFont": "Lato", "titleFontSize": 18, "titleFontWeight": "bold", "titleColor": "#000", "titlePadding": 10,
      "grid": true, "gridColor": "#8c8c8c", "gridWidth": 1,
      "domainColor": "#8c8c8c", "tickColor": "#8c8c8c", "tickSize": 5}},
  "color": {"field": "nuclide", "type": "nominal",
    "scale": {"domain": ["Be-7", "Pb-210", "I-131", "I-125", "Cs-137"], "range": ["#4bacc6", "#8064a2", "#c0504d", "#9bbb59", "#4f81bd"]},
    "legend": {"title": null, "orient": "none", "legendX": 1170, "legendY": 204, "labelFont": "Lato", "labelFontSize": 15, "labelFontWeight": "bold", "labelColor": "#000", "rowPadding": 14, "labelOffset": 6}},
  "shape": {"field": "nuclide", "type": "nominal",
    "scale": {"domain": ["Be-7", "Pb-210", "I-131", "I-125", "Cs-137"], "range": ["triangle-up", "circle", "diamond", "square", "triangle-up"]}},
  "size": {"field": "nuclide", "type": "nominal",
    "scale": {"type": "ordinal", "domain": ["Be-7", "Pb-210", "I-131", "I-125", "Cs-137"], "range": [90, 55, 120, 60, 170]}}
}
}
